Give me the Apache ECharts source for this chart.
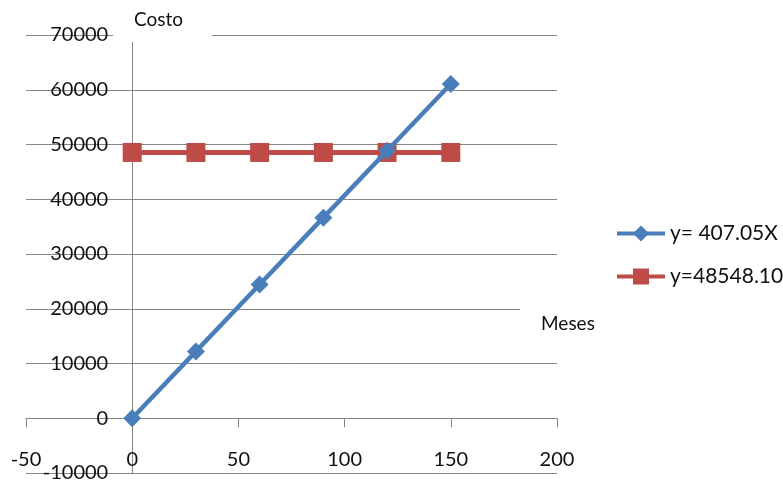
<!DOCTYPE html>
<html>
<head>
<meta charset="utf-8">
<script src="https://cdn.jsdelivr.net/npm/echarts@6/dist/echarts.min.js"></script>
<style>
  html, body { margin: 0; padding: 0; background: #fff; }
  #chart { width: 783px; height: 481px; }
</style>
</head>
<body>
<div id="chart"></div>
<script>
// Months (x) and cost values (y) for the two cost models
const months = [0, 30, 60, 90, 120, 150];
const costVariable = [0, 12211.5, 24423, 36634.5, 48846, 61057.5];
const costFixed = [48548.10, 48548.10, 48548.10, 48548.10, 48548.10, 48548.10];
const seriesNames = ['y= 407.05X', 'y=48548.10'];
const xTitle = 'Meses';
const yTitle = 'Costo';

const FONT = 'Lato, "Open Sans", sans-serif';
const AXIS_GRAY = '#868686';
const BLUE = '#4A7EBB';
const RED = '#BE4B48';

// plot box; axes are shifted so they cross at the origin
const GRID = { left: 26, top: 35, width: 531, height: 438 };
const X_MIN = -50, X_MAX = 200, Y_MIN = -10000, Y_MAX = 70000;
const yAxisShift = -GRID.width * (0 - X_MIN) / (X_MAX - X_MIN);
const xAxisShift = -GRID.height * (0 - Y_MIN) / (Y_MAX - Y_MIN);

const chart = echarts.init(document.getElementById('chart'));

const pairs = (xs, ys) => xs.map((x, i) => [x, ys[i]]);

chart.setOption({
  backgroundColor: '#ffffff',
  animation: false,
  grid: { left: GRID.left, top: GRID.top, width: GRID.width, height: GRID.height,
          containLabel: false, outerBoundsMode: 'none' },
  xAxis: {
    type: 'value',
    position: 'bottom',
    offset: xAxisShift,
    min: X_MIN, max: X_MAX, interval: 50,
    axisLine: { show: true, onZero: false, lineStyle: { color: AXIS_GRAY, width: 1 } },
    axisTick: { show: true, length: 9, lineStyle: { color: AXIS_GRAY } },
    splitLine: { show: false },
    axisLabel: { margin: 31, color: '#111', fontSize: 20, fontFamily: FONT,
                 formatter: v => String(v) }
  },
  yAxis: {
    type: 'value',
    position: 'left',
    offset: yAxisShift,
    min: Y_MIN, max: Y_MAX, interval: 10000,
    axisLine: { show: true, onZero: false, lineStyle: { color: AXIS_GRAY, width: 1 } },
    axisTick: { show: false },
    splitLine: { show: true, lineStyle: { color: AXIS_GRAY, width: 1 } },
    axisLabel: { margin: 24, color: '#111', fontSize: 20, fontFamily: FONT,
                 formatter: v => String(v) }
  },
  legend: {
    orient: 'vertical',
    left: 610, top: 218,
    itemWidth: 48, itemHeight: 20, itemGap: 22,
    textStyle: { color: '#111', fontSize: 21, fontFamily: FONT },
    data: [
      { name: seriesNames[0], lineStyle: { width: 4 } },
      { name: seriesNames[1], lineStyle: { width: 4 } }
    ]
  },
  graphic: [
    // label boxes for the axis titles, white-filled so they sit over the grid
    { type: 'rect', z: 10, shape: { x: 113, y: 0, width: 99, height: 42 },
      style: { fill: '#ffffff' } },
    { type: 'text', z: 11, left: 134, top: 10,
      style: { text: yTitle, fontSize: 19, fontFamily: FONT, fill: '#111' } },
    { type: 'rect', z: 10, shape: { x: 520, y: 300, width: 92, height: 46 },
      style: { fill: '#ffffff' } },
    { type: 'text', z: 11, left: 541, top: 314,
      style: { text: xTitle, fontSize: 19, fontFamily: FONT, fill: '#111' } }
  ],
  series: [
    {
      name: seriesNames[0],
      type: 'line',
      data: pairs(months, costVariable),
      symbol: 'diamond',
      symbolSize: 18,
      lineStyle: { color: BLUE, width: 4.5 },
      itemStyle: { color: BLUE },
      z: 3
    },
    {
      name: seriesNames[1],
      type: 'line',
      data: pairs(months, costFixed),
      symbol: 'rect',
      symbolSize: 19,
      lineStyle: { color: RED, width: 5 },
      itemStyle: { color: RED },
      z: 2
    }
  ]
});
</script>
</body>
</html>
